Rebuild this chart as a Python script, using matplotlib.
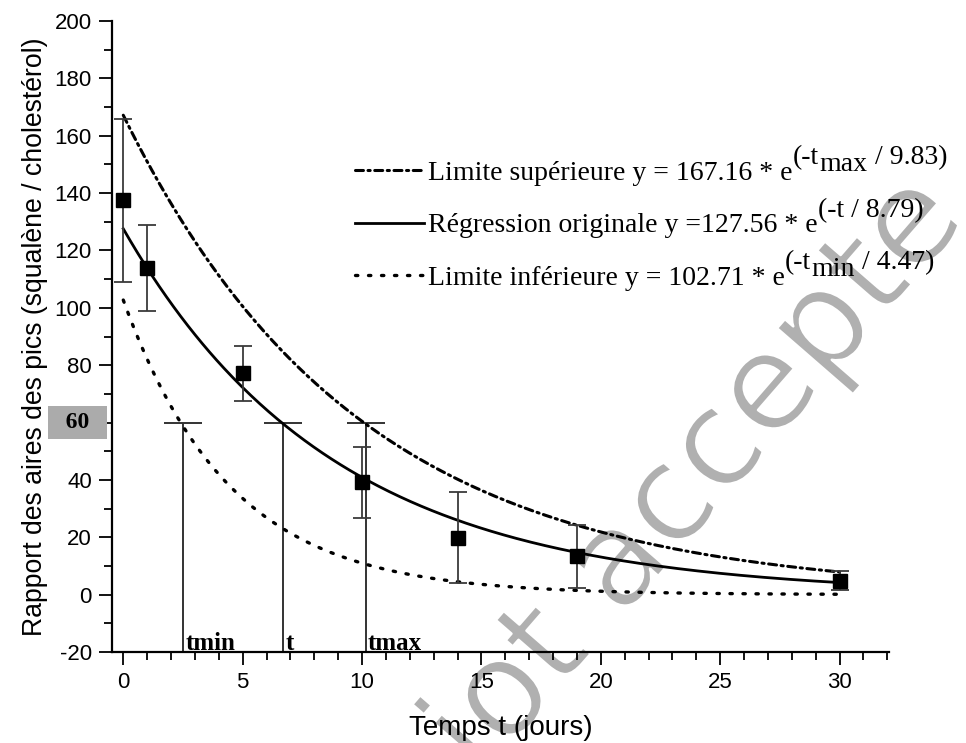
import numpy as np
import matplotlib
matplotlib.use("Agg")
import matplotlib.pyplot as plt
import matplotlib.patheffects as pe
from matplotlib.lines import Line2D
from matplotlib.transforms import blended_transform_factory

plt.rcParams["font.family"] = ["Liberation Sans", "DejaVu Sans"]

# measured points (mean and error bar limits)
days = [0, 1, 5, 10, 14, 19, 30]
ratio_mean = [137.5, 113.9, 77.3, 39.4, 19.9, 13.3, 4.9]
ratio_low = [109.0, 99.0, 67.5, 26.8, 4.2, 2.4, 1.7]
ratio_high = [165.8, 129.0, 86.8, 51.5, 35.9, 24.4, 8.1]

# fitted exponentials y = A * exp(-t / tau), as printed on the chart
fit_names = ["Limite supérieure", "Régression originale", "Limite inférieure"]
fit_amp = [167.16, 127.56, 102.71]
fit_tau = [9.83, 8.79, 4.47]
fit_sub = ["max", "", "min"]
fit_eq_sign = [" = ", " =", " = "]
fit_styles = [(0, (2.6, 1.5, 0.7, 1.5)), "-", (0, (0.7, 3.2))]
fit_lw = [2.2, 2.0, 2.4]
fit_range = [0, 30]

# read-off times where each curve crosses y = 60
cross_level = 60
cross_t = [2.5, 6.7, 10.15]
cross_names = ["tmin", "t", "tmax"]

yticks = [-20, 0, 20, 40, 60, 80, 100, 120, 140, 160, 180, 200]
xticks = [0, 5, 10, 15, 20, 25, 30]

SERIF = "Liberation Serif"

fig = plt.figure(figsize=(9.66, 7.43), dpi=100)
ax = fig.add_axes([0.116, 0.1225, 0.804, 0.8492])
ax.set_facecolor("none")  # let the watermark behind show through

tt = np.linspace(fit_range[0], fit_range[1], 400)
handles = []
for name, a, tau, eq, ls, lw in zip(fit_names, fit_amp, fit_tau, fit_eq_sign,
                                    fit_styles, fit_lw):
    ax.plot(tt, a * np.exp(-tt / tau), color="black", ls=ls, lw=lw,
            dash_capstyle="round", zorder=3)
    handles.append(Line2D([], [], color="black", ls=ls, lw=lw,
                          dash_capstyle="round",
                          label="%s y%s%.2f * e" % (name, eq, a)))

# error bars
m = np.array(ratio_mean)
yerr = [m - np.array(ratio_low), np.array(ratio_high) - m]
ax.errorbar(days, ratio_mean, yerr=yerr, fmt="s", color="black", ms=9.5,
            ecolor="#3a3a3a", elinewidth=1.3, capsize=6.5, capthick=1.3,
            zorder=4)

# vertical markers from the axis up to y = 60
ax.vlines(cross_t, -20, cross_level, color="#333333", lw=1.4, zorder=2)
ax.errorbar(cross_t, [cross_level] * 3, fmt="none", xerr=0.8,
            ecolor="#333333", elinewidth=1.4, capsize=0, zorder=2)
for x, name in zip(cross_t, cross_names):
    ax.text(x + 0.1, -19.4, name, family=SERIF, weight="bold",
            fontsize=18, ha="left", va="baseline")

ax.set_xlim(-0.47, 32.06)
ax.set_ylim(-20, 200)
ax.set_xticks(xticks)
ax.set_yticks(yticks)
ax.set_yticklabels(["" if v == cross_level else str(v) for v in yticks])
ax.xaxis.set_minor_locator(matplotlib.ticker.MultipleLocator(1))
ax.yaxis.set_minor_locator(matplotlib.ticker.MultipleLocator(10))
ax.tick_params(which="major", length=9.5, width=1.3, labelsize=16, pad=5, direction="out")
ax.tick_params(which="minor", length=5.5, width=1.3, direction="out")
for s in ["top", "right"]:
    ax.spines[s].set_visible(False)
for s in ["left", "bottom"]:
    ax.spines[s].set_linewidth(1.6)

# highlighted 60 label
tr = blended_transform_factory(ax.transAxes, ax.transData)
ax.text(-0.045, cross_level, "  60  ", transform=tr, ha="center", va="center",
        family=SERIF, weight="bold", fontsize=17,
        bbox=dict(boxstyle="square,pad=0.25", fc="#ababab", ec="none"),
        clip_on=False)

ax.set_xlabel("Temps t (jours)", fontsize=20, labelpad=16)
ax.set_ylabel("Rapport des aires des pics (squalène / cholestérol)", fontsize=19.2,
              labelpad=5)

leg = ax.legend(handles=handles, loc="upper left", bbox_to_anchor=(0.3127, 0.779),
                frameon=False, prop={"family": SERIF, "size": 20},
                handlelength=2.5, handletextpad=0.12, labelspacing=0.97,
                borderpad=0, borderaxespad=0)

fig.canvas.draw()

# exponent pieces, written at nearly full size as in the original
for txt, sub, tau in zip(leg.get_texts(), fit_sub, fit_tau):
    if sub:
        pieces = [("(-t", 15.5), (sub, 10.5), (" / %.2f)" % tau, 15.5)]
    else:
        pieces = [("(-t / %.2f)" % tau, 15.5)]
    prev = txt
    for s, rise in pieces:
        prev = ax.annotate(s, xy=(1, 0), xycoords=(prev, txt),
                           xytext=(0.3, rise), textcoords="offset points",
                           ha="left", va="baseline", family=SERIF, fontsize=20,
                           annotation_clip=False, zorder=6)

# watermark, drawn behind the axes; a white outline thins the strokes a bit
fig.text(0.4975, -0.0503, "iot accepte", fontsize=96, rotation=49,
         rotation_mode="anchor", ha="left", va="baseline", color="#b0b0b0",
         family="DejaVu Sans", zorder=-1,
         path_effects=[pe.Normal(),
                       pe.Stroke(linewidth=1.8, foreground="white")])

fig.savefig("out.png", dpi=100)
